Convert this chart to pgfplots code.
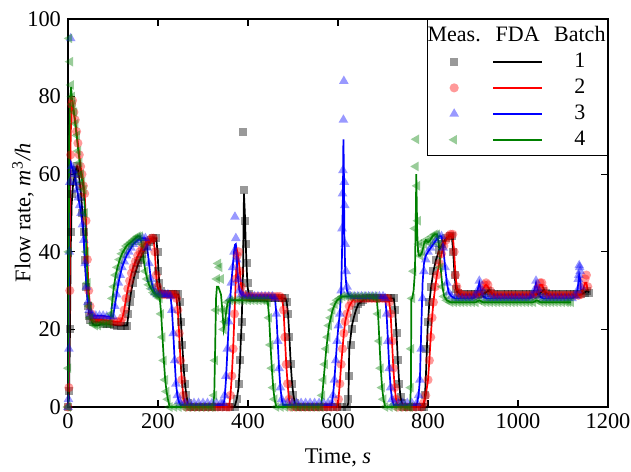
\documentclass[border=0pt]{standalone}
\usepackage{fontspec}
\setmainfont{Liberation Serif}
\usepackage{pgfplots}
\usepackage{pgfplotstable}
\pgfplotsset{compat=1.18}
\definecolor{dgreen}{RGB}{0,128,0}

% Batch 1: t, measured, FDA
\pgfplotstableread{
t m f
0 0 0
2 4 2
4 20 15
6 45 40
8 55 52
11 58 57
14 60 59
17 61 61
20 62 62
23 60 61
26 57 58
29 54 55
32 50 50
35 45 44
38 38 37
41 31 31
44 26 27
47 23.5 24
50 22.5 23
55 22 22
62 22 22
70 21.8 21.8
78 21.5 21.5
86 21.5 21.5
94 21.3 21.3
102 21.2 21.2
110 21 21
118 21 21
126 21 21
131 21 21
134 24 23.5
137 27 27
140 29 29.5
144 32 32
148 34 34
152 35.5 35.5
156 37 37
160 38 38
165 39.5 39.5
170 40.5 40.5
175 41.5 41.5
180 42.5 42.5
185 43 43
190 43.5 43.5
196 43.5 43.5
199 40 40
201 35 35
203 32 32
206 30 30
210 29 29
216 29 29
222 29 29
228 29 29
234 29 29
240 29 29
245 29 29
248 27 27
251 22 22
254 16 16
257 10 10
260 6 6
263 3 3
266 1 1
270 0 0
280 0 0
290 0 0
300 0 0
310 0 0
320 0 0
330 0 0
340 0 0
350 0 0
360 0 0
370 0 0
375 2 2
379 6 5
382 12 11
384 18 17
386 22 22
389 71 35
391 56 55
393 48 50
395 42 42
397 37 36
399 32 31
402 29 29
405 28 28
412 28 28
420 28 28
428 28 28
436 28 28
444 28 28
452 28 28
460 28 28
468 28 28
476 28 28
483 28 28
486 27 27
489 24 24
492 18 18
495 11 11
498 6 6
501 3 3
504 1 1
508 0 0
518 0 0
528 0 0
538 0 0
548 0 0
558 0 0
568 0 0
578 0 0
588 0 0
598 0 0
608 0 0
620 0 0
623 2 1
625 8 15
628 16 18
631 20 21
635 23 23
640 25 25
645 26.5 26.5
650 27 27
656 27.5 27.5
663 28 28
670 28 28
678 28 28
686 28 28
694 28 28
702 28 28
710 28 28
718 28 28
724 28 28
727 25 25
730 19 19
733 12 12
736 6 6
739 2.5 2.5
742 1 1
746 0 0
756 0 0
766 0 0
776 0 0
786 0 0
790 0 0
793 3 2
796 15 10
799 22 20
803 27 27
807 31 31
812 35 35
818 38 38
825 40.5 40.5
832 42 42
840 43.5 43.5
848 44 44
853 44 44
856 40 40
859 34 34
862 30.5 30.5
866 29.5 29.5
872 29 29
880 29 29
888 29 29
896 29 29
904 29 29
912 29 29
920 29 29
928 29.5 29.5
934 30 30
940 29.5 29.5
946 29 29
954 29 29
962 29 29
970 29 29
978 29 29
986 29 29
994 29 29
1002 29 29
1010 29 29
1018 29 29
1026 29 29
1034 29 29
1042 29 29
1050 29.5 29.5
1056 30 30
1062 29.5 29.5
1068 29 29
1076 29 29
1084 29 29
1092 29 29
1100 29 29
1108 29 29
1116 29 29
1124 29 29
1132 29 29
1140 29 29
1148 29.5 29.5
1154 30 30
1158 29.5 29.5
}\bone

% Batch 2
\pgfplotstableread{
t m f
0 0 0
2 5 4
4 30 40
6 65 70
8 78 77
10 79 78
13 76 76
16 74 74
19 71 71
22 68 68
25 65 65
28 62 62
31 60 60
34 57 58
37 55 55
40 48 48
43 38 38
46 30 30
49 26 26
52 24 24
56 23 23
62 22.5 22.5
70 22.5 22.5
78 22.5 22.5
86 22.3 22.3
94 22.2 22.2
102 22 22
110 22 22
117 22 22
121 23 23
125 25 25
129 28 28
133 30.5 30.5
137 32.5 32.5
141 34.5 34.5
145 36 36
150 37.5 37.5
155 39 39
160 40 40
165 41 41
170 42 42
175 42.5 42.5
180 43 43
186 43.5 43.5
190 43.5 43.5
193 40 40
196 34 34
199 31 31
203 29.5 29.5
208 29 29
214 29 29
220 29 29
226 29 29
232 29 29
238 29 29
241 28 28
244 25 25
247 19 19
250 12 12
253 7 7
256 3 3
259 1 1
263 0 0
273 0 0
283 0 0
293 0 0
303 0 0
313 0 0
323 0 0
333 0 0
343 0 0
353 0 0
358 0 0
361 3 3
364 8 8
367 15 15
370 24 24
373 33 33
376 39 40
379 40 38
382 35 35
385 31 31
389 29 29
394 28.5 28.5
400 28.5 28.5
408 28.5 28.5
416 28.5 28.5
424 28.5 28.5
432 28.5 28.5
440 28.5 28.5
448 28.5 28.5
456 28.5 28.5
464 28.5 28.5
471 28.5 28.5
476 28 28
479 25 25
482 18 18
485 11 11
488 6 6
491 2 2
495 0 0
505 0 0
515 0 0
525 0 0
535 0 0
545 0 0
555 0 0
565 0 0
575 0 0
585 0 0
598 0 0
601 2 2
604 6 6
607 11 11
610 15 15
613 19 19
616 22 22
620 24 24
625 26 26
630 27 27
636 28 28
643 28 28
651 28 28
659 28 28
667 28 28
675 28 28
683 28 28
691 28 28
699 28 28
706 28 28
711 28 28
714 27 27
717 24 24
720 17 17
723 10 10
726 5 5
729 2 2
733 0 0
743 0 0
753 0 0
763 0 0
773 0 0
785 0 0
790 1 1
795 3 3
800 7 7
803 12 12
806 18 18
809 23 23
812 27 27
816 31 31
820 34 34
825 37 37
830 39.5 39.5
835 41.5 41.5
840 43 43
845 44 44
850 44.5 44.5
855 44.5 44.5
858 40 40
861 34 34
864 31 31
868 29.5 29.5
874 29 29
882 28.8 28.8
890 28.8 28.8
898 28.8 28.8
906 28.8 28.8
914 29 29
920 30 30
925 31.5 31
929 32 31.5
933 31.5 31
938 30 30
944 29 29
952 28.8 28.8
960 28.8 28.8
968 28.8 28.8
976 28.8 28.8
984 28.8 28.8
992 28.8 28.8
1000 28.8 28.8
1008 28.8 28.8
1016 28.8 28.8
1024 28.8 28.8
1032 28.8 28.8
1040 29 29
1045 30.5 30.5
1049 32 31.5
1053 32 31.5
1057 30.5 30.5
1062 29 29
1070 28.8 28.8
1078 28.8 28.8
1086 28.8 28.8
1094 28.8 28.8
1102 28.8 28.8
1110 28.8 28.8
1118 28.8 28.8
1126 28.8 28.8
1134 28.8 28.8
1140 29 29
1145 31 30.5
1149 33 32
1152 34 32
1155 31 30
}\btwo

% Batch 3
\pgfplotstableread{
t m f
0 0 0
1 2 5
2 15 30
3 40 55
4 58 62
6 95 63
8 62 62
11 61 61
14 60 60
17 58 58
20 56 56
23 54 54
26 52 52
29 50 50
32 47 47
35 43 43
38 37 37
41 31 31
44 27 27
47 25 25
50 24 24
55 23.5 23.5
62 23.5 23.5
70 23.5 23.5
78 23.5 23.5
86 23.3 23.3
94 23.3 23.3
100 23.3 23.3
104 26 26
108 29 29
112 32 32
116 34 34
120 36 36
125 37.5 37.5
130 39 39
135 40 40
140 41 41
145 42 42
150 42.5 42.5
155 43 43
160 43.5 43.5
166 43.5 43.5
172 43.5 43.5
176 41 41
180 37 37
184 33 33
188 31 31
193 29.5 29.5
198 29 29
204 29 29
210 29 29
216 29 29
222 29 29
228 28.5 28.5
231 25 25
234 19 19
237 12 12
240 6 6
243 3 3
246 1.5 1.5
250 1 0.5
260 1 0.5
270 1 0.5
280 1 0.5
290 1 0.5
300 1 0.5
310 1 0.5
320 1 0.5
330 1 0.5
340 1 0.5
345 1 0.5
348 3 2
351 8 7
354 15 14
357 22 21
360 28 27
363 32 32
366 36 36
369 40 40
371 49 41.8
373 43.5 42
375 38 38
378 33 33
381 30 30
385 29 29
390 28.5 28.5
398 28.5 28.5
406 28.5 28.5
414 28.5 28.5
422 28.5 28.5
430 28.5 28.5
438 28.5 28.5
446 28.5 28.5
454 28.5 28.5
460 28 28
463 24 24
466 17 17
469 10 10
472 5 5
475 2 2
478 1 0.5
488 1 0.5
498 1 0.5
508 1 0.5
518 1 0.5
528 1 0.5
538 1 0.5
548 1 0.5
558 1 0.5
568 1 0.5
578 1 0.5
586 1 0.5
589 3 3
592 7 7
595 12 12
598 17 17
601 21 21
604 24 24
607 30 30
609 46 40
610 55 48
611 61 55
612 74 69
613 84 62
614 58 45
615 52 40
616 42 35
618 35 32
620 31 30
623 29 29
628 28.5 28.5
636 28.5 28.5
644 28.5 28.5
652 28.5 28.5
660 28.5 28.5
668 28.5 28.5
676 28.5 28.5
684 28.5 28.5
692 28.5 28.5
700 28.5 28.5
705 28 28
708 24 24
711 17 17
714 10 10
717 5 5
720 2 2
724 1 0.5
734 1 0.5
744 1 0.5
754 1 0.5
764 1 0.5
775 1 0.5
779 3 3
782 7 7
785 15 20
788 28 32
791 35 37
795 38 39
800 40 40
806 41 41
812 42 42
818 43 43
824 44 44
830 44 44
834 41 41
838 36 36
842 32 32
846 29.5 29.5
852 28.5 28.5
860 28 28
868 28 28
876 28 28
884 28 28
892 28 28
900 28 28
906 28.5 28.5
910 30 30
914 32.5 32
918 30.5 30
922 28.5 28.5
930 28 28
938 28 28
946 28 28
954 28 28
962 28 28
970 28 28
978 28 28
986 28 28
994 28 28
1002 28 28
1010 28 28
1018 28 28
1026 28 28
1032 28.5 28.5
1036 30 30
1040 32.5 32
1044 30.5 30
1048 28.5 28.5
1056 28 28
1064 28 28
1072 28 28
1080 28 28
1088 28 28
1096 28 28
1104 28 28
1112 28 28
1120 28 28
1128 28.5 28.5
1132 30 30
1134 33 32
1135 34 33
1136 36.5 34
1137 36 33.5
1138 35 33
1140 31 30
}\bthree

% Batch 4
\pgfplotstableread{
t m f
0 0 0
1 10 20
2 40 50
3 95 70
5 89 80
7 83 82.5
9 80 79
11 78 78
14 76 75
17 73 72
20 70 69
23 66 66
26 63 63
29 60 60
32 58 58
35 56 56
38 50 50
41 40 40
44 32 32
47 26 26
50 23 23
55 21.5 21.5
60 21 21
67 21 21
74 21.5 21.5
81 21.5 21.5
88 21.5 21.5
93 21.5 21.5
96 24 24
99 28 28
102 31 31
106 34 34
110 36 36
115 38 38
120 39.5 39.5
125 40.5 40.5
130 41.5 41.5
135 42 42
140 42.5 42.5
145 43 43
150 43.5 43.5
155 44 44
160 44 44
164 42 42
168 38 38
172 35 35
176 33 33
180 31.5 31.5
185 30.5 30.5
190 29.5 29.5
195 29 29
200 28.5 28.5
204 28 28
207 24 24
210 18 18
213 12 12
216 7 7
219 4 4
222 2 2
226 0 0
236 0 0
246 0 0
256 0 0
266 0 0
276 0 0
286 0 0
296 0 0
306 0 0
316 0 0
322 0 0
325 3 3
327 12 15
329 25 28
331 33 31
334 37 31
337 36 30
340 33 29
343 25 25
346 20 20
349 22 22
352 25 25
355 27 27
360 27.5 27.5
368 27.5 27.5
376 27.5 27.5
384 27.5 27.5
392 27.5 27.5
400 27.5 27.5
408 27.5 27.5
416 27.5 27.5
424 27.5 27.5
432 27.5 27.5
440 27.5 27.5
444 27 27
447 23 23
450 16 16
453 10 10
456 5 5
459 2 2
463 0 0
473 0 0
483 0 0
493 0 0
503 0 0
513 0 0
523 0 0
533 0 0
543 0 0
553 0 0
562 0 0
565 3 3
568 7 7
571 11 11
574 15 15
577 18 18
580 21 21
584 23 23
588 25 25
593 26.5 26.5
598 27.5 27.5
604 28 28
610 28.5 28.5
618 28.5 28.5
626 28.5 28.5
634 28.5 28.5
642 28.5 28.5
650 28.5 28.5
658 28.5 28.5
666 28.5 28.5
674 28.5 28.5
682 28.5 28.5
686 28 28
689 24 24
692 17 17
695 10 10
698 5 5
701 2 2
705 0 0
715 0 0
725 0 0
735 0 0
745 0 0
755 0 0
760 0 0
762 5 5
763 15 28
765 28 28
768 35 30
771 46 35
773 62 50
774 69 60
776 57 45
778 48 40
780 42 39
783 39 39
787 40 40
791 42 42
795 43 43
800 42.5 42.5
805 43 43
810 44 44
815 44.5 44.5
820 44.5 44.5
824 42 42
828 36 36
832 31 31
836 28.5 28.5
842 27.5 27.5
850 27 27
858 27 27
866 27 27
874 27 27
882 27 27
890 27 27
898 27 27
906 27 27
914 27.5 27.5
922 27 27
930 27 27
938 27 27
946 27 27
954 27 27
962 27 27
970 27 27
978 27 27
986 27 27
994 27 27
1002 27 27
1010 27 27
1018 27 27
1026 27 27
1034 27 27
1042 27.5 27.5
1050 27 27
1058 27 27
1066 27 27
1074 27 27
1082 27 27
1090 27 27
1098 27 27
1106 27 27
1112 27 27
1118 27 27
}\bfour

\begin{document}
\begin{tikzpicture}[font=\fontsize{11.2}{13}\selectfont]
\useasboundingbox (-34pt,-32pt) rectangle (281.5pt,203.5pt);
\begin{axis}[
  scale only axis, width=270pt, height=194pt,
  at={(0pt,0pt)}, anchor=south west,
  xmin=0, xmax=1200, ymin=0, ymax=100,
  xtick={0,200,...,1200}, ytick={0,20,...,100},
  tick align=inside, xtick pos=both, ytick pos=both,
  major tick length=3.5pt,
  axis line style={line width=0.6pt},
  every tick/.style={black, line width=0.6pt},
  /pgf/number format/assume math mode=true,
  /pgf/number format/1000 sep={},
  tick label style={font=\fontsize{11.2}{13}\selectfont},
  label style={font=\fontsize{11.2}{13}\selectfont},
  xlabel={Time, \textit{s}},
  ylabel={Flow rate, \textit{m}\textsuperscript{3}\textit{/h}},
  xlabel style={at={(axis description cs:0.5,-0.131)}, anchor=center},
  ylabel style={at={(axis description cs:-0.0833,0.5)}, anchor=center},
  legend style={at={(rel axis cs:1,1)}, anchor=north east, draw=black, line width=0.5pt,
    inner xsep=0pt, inner ysep=2.5pt, row sep=2.2pt, nodes={inner sep=1pt},
    font=\fontsize{11}{13}\selectfont},
  legend cell align=center,
]
% measured data
\addplot[only marks, mark=square*, mark size=2pt, mark options={draw=none, draw opacity=0, fill=black, fill opacity=0.4}, forget plot] table[x=t, y=m]{\bone};
\addplot[only marks, mark=*, mark size=2.3pt, mark options={draw=none, draw opacity=0, fill=red, fill opacity=0.4}, forget plot] table[x=t, y=m]{\btwo};
\addplot[only marks, mark=triangle*, mark size=2.8pt, mark options={draw=none, draw opacity=0, fill=blue, fill opacity=0.4}, forget plot] table[x=t, y=m]{\bthree};
\addplot[only marks, mark=triangle*, mark size=2.8pt, mark options={draw=none, draw opacity=0, fill=dgreen, fill opacity=0.4, rotate=90}, forget plot] table[x=t, y=m]{\bfour};
% FDA
\addplot[black, line width=0.85pt, no marks, forget plot] table[x=t, y=f]{\bone};
\addplot[red, line width=0.85pt, no marks, forget plot] table[x=t, y=f]{\btwo};
\addplot[blue, line width=0.85pt, no marks, forget plot] table[x=t, y=f]{\bthree};
\addplot[dgreen, line width=0.85pt, no marks, forget plot] table[x=t, y=f]{\bfour};
% legend
\addlegendimage{legend image code/.code={\path[draw=none, fill=none] (-15.5pt,-3.5pt) rectangle (47pt,3.5pt);
  \node[inner sep=0pt, draw=none] at (-2pt,0pt) {Meas.}; \node[inner sep=0pt, draw=none] at (29.75pt,0pt) {FDA};}}
\addlegendentry{Batch}
\addlegendimage{legend image code/.code={\path[draw=none, fill=none] (-15.5pt,-3.5pt) rectangle (47pt,3.5pt);
  \path[draw=none, fill=black, fill opacity=0.4] (-4pt,-2pt) rectangle (0pt,2pt);
  \draw[black, line width=0.85pt] (17.5pt,0pt) -- (42pt,0pt);}}
\addlegendentry{1}
\addlegendimage{legend image code/.code={\path[draw=none, fill=none] (-15.5pt,-3.5pt) rectangle (47pt,3.5pt);
  \path[draw=none, fill=red, fill opacity=0.4] (-2pt,0pt) circle (2.3pt);
  \draw[red, line width=0.85pt] (17.5pt,0pt) -- (42pt,0pt);}}
\addlegendentry{2}
\addlegendimage{legend image code/.code={\path[draw=none, fill=none] (-15.5pt,-3.5pt) rectangle (47pt,3.5pt);
  \path[draw=none, fill=blue, fill opacity=0.4, shift={(-2pt,0pt)}] (90:2.8pt) -- (210:2.8pt) -- (330:2.8pt) -- cycle;
  \draw[blue, line width=0.85pt] (17.5pt,0pt) -- (42pt,0pt);}}
\addlegendentry{3}
\addlegendimage{legend image code/.code={\path[draw=none, fill=none] (-15.5pt,-3.5pt) rectangle (47pt,3.5pt);
  \path[draw=none, fill=dgreen, fill opacity=0.4, shift={(-2pt,0pt)}] (180:2.8pt) -- (300:2.8pt) -- (60:2.8pt) -- cycle;
  \draw[dgreen, line width=0.85pt] (17.5pt,0pt) -- (42pt,0pt);}}
\addlegendentry{4}
\end{axis}
\end{tikzpicture}
\end{document}
